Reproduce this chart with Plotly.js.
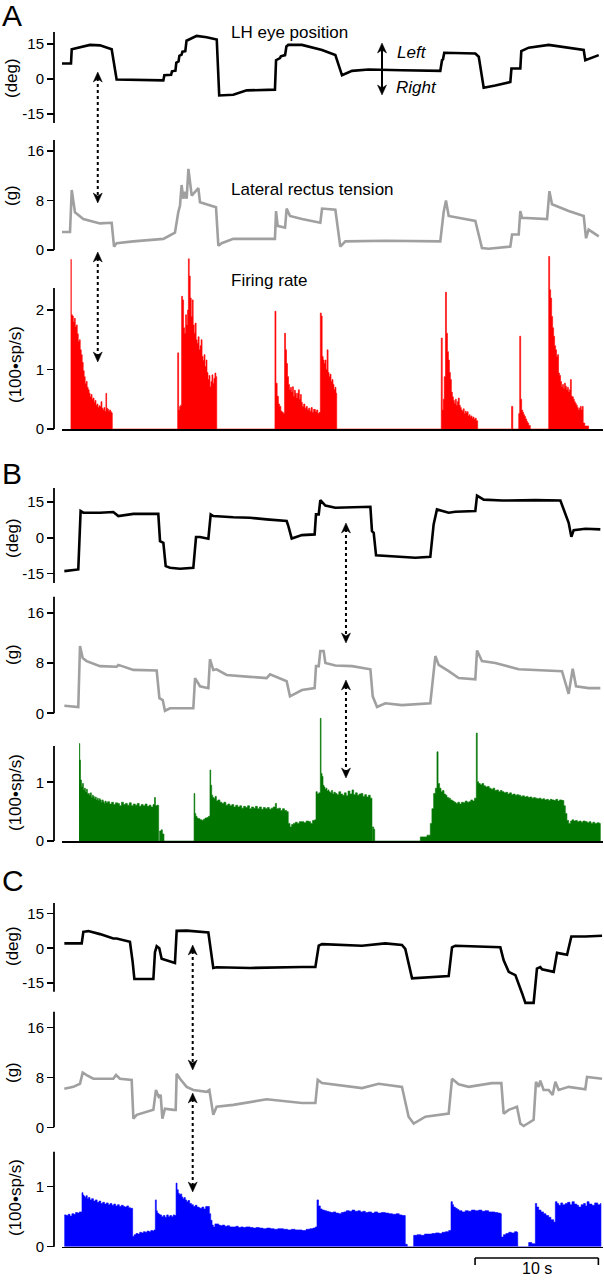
<!DOCTYPE html>
<html><head><meta charset="utf-8">
<script src="https://cdn.plot.ly/plotly-3.0.1.min.js"></script>
<style>html,body{margin:0;padding:0;background:#fff}#chart{width:604px;height:1280px}</style>
</head><body><div id="chart"></div>
<script>
// ---------------- DATA (time in s) ----------------
const eyeA_t = [0,0.73,0.79,1.5,2.27,3.08,4.03,4.43,6.0,8.22,8.30,8.85,8.92,9.2,9.27,9.45,9.52,9.7,9.77,10.0,10.1,10.5,10.92,11.73,12.55,12.75,13.89,14.98,17.27,17.36,17.68,17.75,18.09,18.2,18.35,19.46,21.09,22.17,22.71,23.52,24.87,27.57,30.68,30.82,30.9,31.0,33.52,33.8,34.2,35.14,36.36,36.45,37.17,37.25,37.85,39.47,40.01,42.31,42.44,42.98,43.53];
const eyeA_deg = [6.7,6.7,12.8,13.8,14.7,14.5,12.8,-0.2,-0.4,-0.6,1.6,1.8,3.3,3.6,7.0,7.6,10.0,10.5,11.8,12.0,16.5,17.5,18.6,18.0,17.0,-7.1,-6.8,-4.9,-4.6,8.1,9.0,9.8,10.3,14.0,14.7,14.7,12.5,10.3,1.6,3.5,4.1,3.8,3.5,8.1,8.5,11.3,11.0,9.6,-3.8,-2.8,-1.3,4.5,4.5,12.0,13.5,14.7,14.3,12.5,8.1,9.3,10.3];

const tensionA_t = [0,0.65,0.79,1.05,1.73,3.08,4.03,4.22,4.43,5.78,8.22,8.9,9.16,9.43,9.57,9.7,9.84,9.97,10.11,10.25,10.38,10.52,10.79,11.06,11.19,11.73,12.49,12.68,12.95,13.89,16.6,17.27,17.36,17.49,18.09,18.22,18.49,19.46,20.95,21.09,22.17,22.57,22.98,26.22,30.68,30.95,31.14,31.36,33.52,34.06,34.6,36.36,36.5,37.04,37.17,37.31,39.34,39.53,39.74,41.09,42.31,42.5,42.71,43.53];
const tensionA_g = [2.9,2.9,9.7,6.1,5.0,4.3,4.4,0.55,1.1,1.4,1.8,2.5,2.8,6.1,7.2,10.5,8.3,9.4,8.3,13.1,10.5,8.8,9.4,10.0,7.7,7.4,6.9,0.7,1.1,1.8,1.8,1.8,6.3,3.9,3.6,6.7,5.5,5.0,4.4,6.7,6.5,0.55,1.4,1.5,1.4,6.1,8.0,5.5,4.7,0.3,0.2,0.55,2.5,2.5,6.3,5.2,5.0,9.5,7.4,6.3,5.5,1.9,3.3,2.2];

const firingA_t = [0.70,0.76,0.84,0.92,1.00,1.08,1.16,1.24,1.32,1.40,1.48,1.56,1.64,1.72,1.80,1.88,1.96,2.04,2.12,2.20,2.28,2.36,2.44,2.52,2.60,2.68,2.76,2.84,2.92,3.00,3.08,3.16,3.24,3.32,3.40,3.48,3.56,3.62,3.70,3.78,3.86,3.94,4.02,4.08,
9.38,9.46,9.54,9.62,9.70,9.78,9.86,9.94,10.02,10.10,10.18,10.25,10.32,10.40,10.48,10.56,10.64,10.72,10.80,10.88,10.96,11.04,11.12,11.20,11.28,11.36,11.44,11.52,11.60,11.68,11.76,11.84,11.92,12.00,12.08,12.16,12.24,12.32,12.40,12.48,12.55,
17.27,17.35,17.45,17.55,17.65,17.75,17.85,17.95,18.05,18.13,18.21,18.29,18.37,18.45,18.53,18.61,18.69,18.77,18.85,18.93,19.01,19.09,19.17,19.25,19.33,19.41,19.49,19.60,19.70,19.80,19.90,20.00,20.10,20.20,20.30,20.40,20.55,20.65,20.75,20.85,20.95,21.03,21.10,21.18,21.26,21.34,21.42,21.50,21.58,21.66,21.74,21.82,21.90,21.98,22.06,22.14,22.22,22.28,
30.76,30.84,30.92,31.00,31.10,31.18,31.26,31.34,31.42,31.50,31.58,31.66,31.74,31.82,31.90,31.98,32.06,32.14,32.22,32.30,32.38,32.46,32.54,32.62,32.70,32.78,32.86,32.94,33.02,33.10,33.18,33.26,33.34,33.42,33.50,33.60,33.71,
36.46,36.56,37.04,37.12,37.20,37.28,37.36,37.44,37.52,37.60,37.68,37.76,37.85,37.98,
39.47,39.55,39.63,39.71,39.79,39.87,39.95,40.03,40.11,40.19,40.27,40.35,40.43,40.51,40.59,40.67,40.75,40.83,40.91,40.99,41.07,41.15,41.23,41.31,41.39,41.47,41.55,41.63,41.71,41.79,41.87,41.95,42.03,42.11,42.19,42.27,42.40,42.71];
const firingA_rate = [2.85,1.92,1.90,1.80,1.86,1.72,1.75,1.60,1.47,1.50,1.33,1.25,1.12,0.98,0.88,0.76,0.80,0.70,0.66,0.60,0.54,0.58,0.50,0.52,0.45,0.48,0.40,0.42,0.36,0.39,0.38,0.46,0.35,0.32,0.36,0.30,0.60,0.35,0.33,0.30,0.32,0.29,0.27,0,
1.28,0.32,0.38,0.40,2.23,2.17,1.70,1.61,1.92,1.75,2.0,2.86,2.57,2.20,1.89,2.17,1.75,1.61,1.78,1.50,1.44,1.55,1.33,1.40,1.50,1.22,1.15,1.25,1.05,1.16,0.95,0.83,0.90,0.71,0.80,0.91,0.77,0.85,0.94,0.88,0,
1.98,0.77,0.55,0.42,0.38,0.30,0.28,0.26,1.61,1.33,1.10,0.88,0.75,0.66,0.70,0.62,0.71,0.55,0.65,0.60,0.52,0.60,0.66,0.50,0.58,0.45,0.38,0.42,0.35,0.38,0.32,0.35,0.30,0.36,0.28,0.33,0.29,0.32,0.26,0.28,1.95,1.90,1.22,1.16,1.10,1.16,1.00,1.33,0.95,0.88,0.92,0.80,0.83,0.75,0.66,0.70,0.60,0,
1.53,0.32,0.50,0.88,2.30,1.61,1.30,1.16,0.95,0.83,0.62,0.54,0.48,0.43,0.50,0.40,0.46,0.52,0.40,0.36,0.32,0.30,0.34,0.26,0.30,0.27,0.29,0.22,0.24,0.20,0.22,0.18,0.20,0.16,0.18,0.14,0,
0.38,0,0.26,1.56,0.50,0.32,0.28,0.24,0.21,0.17,0.13,0.10,0.06,0,
2.90,2.34,2.20,1.89,1.70,1.56,1.40,1.33,1.22,1.25,0.94,0.90,0.80,0.71,0.75,0.68,0.77,0.72,0.66,0.70,0.62,0.66,0.83,0.55,0.54,0.50,0.46,0.43,0.40,0.36,0.32,0.35,0.38,0.32,0.38,0.10,0.05,0];

const eyeB_t = [0.19,1.19,1.32,1.51,1.73,3.08,4.16,4.57,5.79,7.81,7.95,8.22,8.41,8.76,9.57,10.65,10.87,11.19,11.87,12.06,12.27,13.89,15.25,16.60,18.22,18.36,18.63,19.46,20.49,20.60,20.82,20.95,21.36,22.17,23.52,25.01,25.14,25.28,25.47,27.57,28.66,29.87,30.14,30.41,30.82,31.36,31.90,33.52,33.66,34.20,35.69,38.39,40.42,40.82,41.09,41.31,41.50,42.44,43.66];
const eyeB_deg = [-14.0,-13.3,-13.3,11.2,10.5,10.5,10.8,9.1,10.0,10.0,-1.4,-2.1,-11.9,-12.6,-13.0,-12.6,0.3,0.3,-0.4,9.8,9.1,8.6,8.4,7.7,7.0,4.9,-0.3,1.1,1.4,9.8,9.8,15.8,13.5,12.6,12.8,13.0,2.8,2.1,-7.4,-8.0,-8.4,-8.0,5.6,11.9,11.2,10.5,10.9,11.2,17.7,16.0,15.6,15.8,15.6,10.5,6.3,0.4,3.2,3.8,3.5];

const tensionB_t = [0.19,1.32,1.46,1.68,2.00,3.08,4.43,4.57,5.79,7.68,7.90,8.17,8.35,8.76,10.65,10.79,11.19,11.87,12.00,12.27,12.54,13.35,15.25,16.60,16.87,18.22,18.49,19.46,20.49,20.60,20.82,20.95,21.22,21.36,22.17,23.52,25.01,25.20,25.55,26.22,27.57,29.87,30.28,30.55,31.36,32.17,33.52,33.66,34.06,35.14,37.04,38.39,40.55,41.09,41.42,41.69,42.71,43.66];
const tensionB_g = [1.2,1.0,10.7,8.8,8.3,7.5,7.4,7.7,6.9,6.8,2.4,2.1,0.4,0.8,0.8,5.6,4.3,4.0,8.6,6.9,7.0,6.1,5.8,5.6,6.2,5.1,2.7,3.7,4.0,7.5,7.5,9.9,9.9,8.0,7.6,7.5,7.0,2.7,1.0,1.6,1.3,1.6,9.1,7.7,6.7,5.6,5.4,10.0,8.3,8.0,7.0,6.9,6.7,3.1,7.1,4.3,4.0,4.0];

const firingB_t = [1.38,1.44,1.50,1.58,1.66,1.74,1.82,1.90,1.98,2.06,2.14,2.22,2.30,2.38,2.46,2.54,2.62,2.70,2.78,2.86,2.94,3.02,3.10,3.18,3.26,3.34,3.42,3.50,3.58,3.70,3.86,4.02,4.18,4.34,4.50,4.66,4.82,4.98,5.14,5.30,5.46,5.62,5.78,5.94,6.10,6.26,6.42,6.58,6.74,6.90,7.06,7.22,7.38,7.50,7.58,7.70,7.84,7.92,8.04,8.14,8.27,
10.71,10.77,10.85,10.95,11.06,11.20,11.35,11.46,11.60,11.75,11.87,12.00,12.06,12.14,12.22,12.32,12.41,12.52,12.64,12.81,12.97,13.13,13.29,13.45,13.61,13.77,13.93,14.09,14.25,14.41,14.57,14.73,14.89,15.05,15.21,15.37,15.53,15.69,15.85,16.01,16.17,16.33,16.49,16.65,16.81,16.97,17.13,17.30,17.40,17.56,17.72,17.88,18.04,18.22,18.35,18.49,18.62,18.76,18.92,19.08,19.24,19.46,19.62,19.80,20.00,20.16,20.32,20.49,20.60,20.70,20.82,20.95,21.01,21.09,21.17,21.25,21.33,21.41,21.49,21.57,21.65,21.75,21.85,21.95,22.05,22.17,22.30,22.45,22.60,22.75,22.90,23.05,23.20,23.35,23.52,23.65,23.80,23.95,24.10,24.25,24.40,24.55,24.70,24.85,25.00,25.14,25.18,25.28,25.36,
29.06,29.60,29.87,30.00,30.14,30.28,30.41,30.50,30.62,30.74,30.86,30.98,31.10,31.22,31.36,31.50,31.65,31.80,31.95,32.10,32.25,32.40,32.55,32.70,32.85,33.00,33.15,33.30,33.45,33.60,33.68,33.79,33.92,34.06,34.20,34.35,34.50,34.65,34.80,34.95,35.10,35.25,35.40,35.55,35.69,35.85,36.00,36.15,36.30,36.45,36.60,36.75,36.90,37.04,37.20,37.35,37.50,37.65,37.80,37.95,38.10,38.25,38.39,38.55,38.70,38.85,39.00,39.15,39.30,39.45,39.60,39.74,39.90,40.05,40.20,40.35,40.55,40.70,40.82,40.95,41.09,41.25,41.36,41.50,41.65,41.80,41.95,42.10,42.25,42.44,42.60,42.75,42.90,43.05,43.20,43.40,43.58,43.66];
const firingB_rate = [1.66,1.38,1.04,0.93,0.98,0.87,0.90,0.84,0.88,0.80,0.81,0.78,0.82,0.74,0.78,0.76,0.72,0.75,0.70,0.73,0.69,0.72,0.70,0.66,0.70,0.67,0.64,0.68,0.65,0.67,0.63,0.66,0.62,0.65,0.64,0.60,0.66,0.62,0.64,0.61,0.65,0.60,0.63,0.61,0.64,0.59,0.62,0.60,0.63,0.59,0.61,0.58,0.62,0.74,0.60,0.61,0,0.17,0.19,0.12,0,
0.81,0.47,0.42,0.39,0.38,0.36,0.35,0.37,0.39,0.40,0.42,1.21,0.95,0.78,0.74,0.72,0.76,0.68,0.70,0.66,0.64,0.66,0.61,0.63,0.60,0.62,0.58,0.61,0.58,0.60,0.56,0.59,0.57,0.60,0.55,0.58,0.56,0.59,0.55,0.58,0.54,0.57,0.55,0.57,0.54,0.56,0.58,0.64,0.55,0.56,0.52,0.55,0.52,0.50,0.30,0.24,0.28,0.30,0.32,0.30,0.33,0.33,0.31,0.34,0.33,0.30,0.35,0.36,0.84,0.80,0.82,2.09,1.15,1.10,0.95,0.92,0.88,0.90,0.85,0.87,0.84,0.82,0.86,0.80,0.83,0.81,0.79,0.84,0.80,0.78,0.82,0.77,0.85,0.80,0.87,0.79,0.82,0.78,0.80,0.81,0.76,0.79,0.75,0.78,0.73,0,0.24,0.20,0,
0.07,0.10,0.30,0.55,0.81,0.90,1.52,0.98,0.90,0.84,0.86,0.80,0.78,0.74,0.73,0.70,0.68,0.66,0.64,0.66,0.63,0.66,0.65,0.68,0.66,0.67,0.70,0.68,0.73,1.84,1.01,0.98,0.96,0.98,0.94,0.92,0.93,0.90,0.88,0.90,0.86,0.87,0.84,0.86,0.84,0.82,0.83,0.80,0.82,0.79,0.80,0.78,0.79,0.78,0.76,0.77,0.75,0.76,0.74,0.75,0.73,0.74,0.73,0.72,0.73,0.71,0.72,0.70,0.71,0.69,0.71,0.70,0.69,0.71,0.68,0.70,0.69,0.60,0.47,0.35,0.30,0.34,0.36,0.34,0.35,0.33,0.34,0.32,0.34,0.33,0.31,0.33,0.30,0.32,0.30,0.31,0.30,0];

const eyeC_t = [0.19,1.60,1.73,2.14,3.08,4.16,4.43,5.51,5.73,5.87,7.41,7.54,7.68,7.89,8.08,8.76,9.16,9.30,10.11,11.87,12.27,12.54,15.25,19.46,20.55,20.82,21.09,24.33,26.22,27.57,27.84,28.39,31.36,31.63,31.90,35.55,35.82,36.23,36.77,37.31,37.58,38.25,38.52,38.79,38.93,39.88,40.15,40.96,41.31,42.44,43.80];
const eyeC_deg = [2.1,2.1,7.1,7.4,6.1,4.2,4.2,2.8,-5.9,-13.3,-13.3,-1.7,0.85,0.0,-4.5,-5.7,-6.4,7.5,7.6,6.8,-8.5,-8.2,-8.5,-8.1,-8.1,1.1,1.8,1.1,2.1,1.4,-0.3,-13.0,-12.0,0.4,1.1,0.4,-5.2,-10.2,-11.6,-19.4,-23.6,-23.6,-8.8,-8.1,-9.1,-10.2,-2.0,-2.8,5.1,5.1,5.4];

const tensionC_t = [0.19,0.92,1.46,1.68,2.00,2.54,4.16,4.38,4.70,5.65,5.79,6.06,7.41,7.62,7.84,8.00,8.14,8.35,9.03,9.22,9.30,9.57,10.11,10.65,11.73,11.95,12.27,12.54,13.89,16.60,19.46,20.55,20.74,21.09,24.33,25.68,27.57,28.11,28.52,29.47,31.36,31.63,32.17,32.98,34.87,35.63,35.82,36.23,36.90,37.17,37.44,38.25,38.44,38.66,38.79,39.06,39.47,39.79,40.01,40.28,41.09,42.44,42.58,43.80];
const tensionC_g = [6.2,6.5,7.0,8.8,8.4,7.8,7.8,8.4,7.8,7.6,1.4,2.0,2.8,6.0,4.9,5.2,1.4,3.0,2.8,2.8,8.6,7.8,6.5,6.0,5.7,6.0,2.0,3.3,3.6,4.5,3.9,3.9,7.6,7.1,6.3,7.0,6.5,1.7,0.6,1.7,2.2,7.8,6.9,6.5,7.1,7.1,2.2,2.8,3.3,0.6,0.2,1.2,7.3,6.5,7.5,6.0,6.0,5.2,7.3,6.0,6.5,6.1,8.1,7.8];

const firingC_t = [0.19,0.35,0.50,0.65,0.80,0.95,1.10,1.25,1.40,1.54,1.62,1.70,1.78,1.87,1.95,2.05,2.15,2.27,2.40,2.55,2.70,2.85,3.00,3.15,3.30,3.45,3.60,3.75,3.90,4.05,4.20,4.35,4.50,4.65,4.80,4.97,5.10,5.25,5.40,5.55,5.65,5.73,5.85,6.00,6.15,6.30,6.45,6.60,6.75,6.90,7.05,7.20,7.35,7.46,7.57,7.65,7.73,7.84,7.95,8.08,8.22,8.35,8.49,8.62,8.75,8.89,9.02,9.14,9.25,9.33,9.43,9.52,9.61,9.71,9.80,9.90,10.00,10.11,10.22,10.35,10.50,10.65,10.80,10.95,11.10,11.19,11.35,11.50,11.65,11.87,11.95,12.06,12.17,12.27,12.40,12.54,12.70,12.85,13.00,13.20,13.40,13.60,13.89,14.10,14.30,14.50,14.70,14.90,15.25,15.50,15.75,16.00,16.30,16.60,16.90,17.20,17.50,17.95,18.30,18.60,18.90,19.20,19.46,19.80,20.10,20.35,20.55,20.68,20.80,20.95,21.10,21.30,21.45,21.63,21.80,22.00,22.20,22.44,22.65,22.85,23.05,23.30,23.52,23.75,24.00,24.20,24.40,24.60,24.85,25.10,25.35,25.60,25.90,26.22,26.50,26.80,27.10,27.35,27.57,27.84,28.00,28.52,28.80,29.10,29.40,29.74,30.00,30.30,30.60,30.82,31.10,31.36,31.55,31.66,31.76,31.90,32.05,32.20,32.44,32.70,32.95,33.20,33.50,33.79,34.05,34.30,34.60,34.87,35.10,35.35,35.55,35.63,35.80,36.00,36.23,36.45,36.70,36.90,36.96,37.85,38.10,38.39,38.50,38.66,38.85,39.05,39.25,39.47,39.65,39.88,40.01,40.15,40.28,40.45,40.60,40.82,41.00,41.20,41.36,41.55,41.75,41.90,42.10,42.30,42.45,42.58,42.75,42.98,43.20,43.45,43.66,43.71];
const firingC_rate = [0.53,0.52,0.54,0.51,0.55,0.54,0.57,0.56,0.58,0.58,0.90,0.86,0.84,0.82,0.85,0.80,0.82,0.78,0.80,0.76,0.78,0.74,0.76,0.72,0.74,0.71,0.73,0.70,0.72,0.69,0.71,0.68,0.70,0.67,0.69,0.67,0.66,0.68,0.65,0.64,0.64,0.17,0.20,0.22,0.21,0.24,0.23,0.25,0.24,0.26,0.25,0.27,0.26,0.28,0.78,0.60,0.56,0.54,0.53,0.50,0.52,0.49,0.53,0.50,0.52,0.50,0.53,0.52,1.06,0.95,0.89,0.86,0.88,0.83,0.80,0.82,0.78,0.75,0.77,0.72,0.70,0.67,0.69,0.66,0.65,0.64,0.66,0.63,0.67,0.67,0.55,0.44,0.36,0.33,0.38,0.38,0.36,0.35,0.36,0.34,0.35,0.33,0.33,0.34,0.32,0.33,0.32,0.33,0.32,0.31,0.32,0.31,0.30,0.31,0.30,0.29,0.30,0.29,0.28,0.29,0.28,0.28,0.27,0.29,0.30,0.31,0.33,0.78,0.68,0.63,0.61,0.60,0.59,0.58,0.57,0.58,0.56,0.55,0.57,0.58,0.60,0.59,0.61,0.59,0.60,0.58,0.59,0.57,0.58,0.56,0.58,0.56,0.57,0.56,0.55,0.54,0.55,0.53,0.52,0.04,0,0.19,0.20,0.19,0.21,0.21,0.22,0.23,0.22,0.24,0.25,0.27,0.75,0.70,0.66,0.64,0.62,0.60,0.58,0.60,0.59,0.61,0.60,0.61,0.59,0.60,0.58,0.58,0.57,0.56,0.55,0.16,0.20,0.22,0.24,0.23,0.25,0.24,0,0.07,0.05,0.72,0.66,0.61,0.58,0.55,0.52,0.49,0.45,0.41,0.75,0.72,0.69,0.73,0.70,0.72,0.74,0.70,0.75,0.71,0.69,0.66,0.70,0.72,0.68,0.75,0.71,0.69,0.73,0.70,0.72,0];

const eyeTicks = [-15, 0, 15];
const eyeTickText = ['-15', '0', '15'];
const tensionTicks = [0, 8, 16];
const firingTicksA = [0, 1, 2];
const firingTicksBC = [0, 1];
const timeRange = [0, 43.9];
const scaleBarStart = 33.5, scaleBarLength = 10, scaleBarLabel = '10 s';
const markerTimes = [2.9, 23.03, 10.6];

// ---------------- LAYOUT ----------------
const W = 604, H = 1280;
const FONT = 'Liberation Sans, Arial, Helvetica, sans-serif';
const XD = [62 / W, 603.3 / W];
const SPX = 54; // y-axis spine pixel x

const panels = [
  {letter: 'A', letterY: 15, color: '#ff0000',
   eyeT: eyeA_t, eye: eyeA_deg, tenT: tensionA_t, ten: tensionA_g, fireT: firingA_t, fire: firingA_rate, fireTicks: firingTicksA,
   eyeG: {cal: [15, 44.2, -15, 113.8], band: [20, 134], spine: [32, 123], title: [12, 78]},
   tenG: {cal: [16, 151, 0, 250], band: [135, 262], spine: [140, 250], title: [12, 196]},
   fireG: {cal: [2, 310, 0, 429], band: [250, 429], spine: [288, 429], title: [15, 365]},
   arrows: [[72, 203], [252, 362]]},
  {letter: 'B', letterY: 473, color: 'rgb(0,118,0)',
   eyeT: eyeB_t, eye: eyeB_deg, tenT: tensionB_t, ten: tensionB_g, fireT: firingB_t, fire: firingB_rate, fireTicks: firingTicksBC,
   eyeG: {cal: [15, 502, -15, 573.5], band: [480, 595], spine: [488, 583], title: [12, 538]},
   tenG: {cal: [16, 612.7, 0, 713.3], band: [592, 725], spine: [596.7, 713.3], title: [12, 655]},
   fireG: {cal: [1, 782.3, 0, 841], band: [700, 841], spine: [746, 841], title: [15, 793]},
   arrows: [[523, 643], [680, 778]]},
  {letter: 'C', letterY: 880, color: '#0000ff',
   eyeT: eyeC_t, eye: eyeC_deg, tenT: tensionC_t, ten: tensionC_g, fireT: firingC_t, fire: firingC_rate, fireTicks: firingTicksBC,
   eyeG: {cal: [15, 913.5, -15, 983], band: [893, 1012], spine: [903, 991.7], title: [12, 946]},
   tenG: {cal: [16, 1027.7, 0, 1127.3], band: [1005, 1140], spine: [1011.7, 1127.3], title: [12, 1073]},
   fireG: {cal: [1, 1186.7, 0, 1246.7], band: [1140, 1246.7], spine: [1151.7, 1246.7], title: [15, 1198]},
   arrows: [[945, 1070], [1093, 1192]]}
];

function geo(g) {
  const [v1, p1, v2, p2] = g.cal;
  const k = (p2 - p1) / (v1 - v2);
  const v = p => v1 + (p1 - p) / k;
  return {range: [v(g.band[1]), v(g.band[0])], domain: [1 - g.band[1] / H, 1 - g.band[0] / H]};
}
const PX = px => px / W, PY = py => 1 - py / H;
const tToPx = t => XD[0] * W + (t - timeRange[0]) / (timeRange[1] - timeRange[0]) * (XD[1] - XD[0]) * W;

const data = [], shapes = [], annotations = [];
const layout = {
  width: W, height: H, margin: {l: 0, r: 0, t: 0, b: 0},
  paper_bgcolor: '#fff', plot_bgcolor: 'rgba(0,0,0,0)', showlegend: false,
  font: {family: FONT, color: '#000'}
};

function addAxis(i, g, tickvals, ticktext, showX) {
  const s = i === 1 ? '' : String(i);
  const G = geo(g);
  layout['xaxis' + s] = {domain: XD, range: timeRange, anchor: 'y' + s, visible: showX,
    showline: true, linecolor: '#000', linewidth: 1.6, ticks: '', showticklabels: false,
    showgrid: false, zeroline: false, fixedrange: true};
  layout['yaxis' + s] = {domain: G.domain, range: G.range, anchor: 'free', position: SPX / W, side: 'left',
    showline: false, ticks: 'outside', ticklen: 7, tickwidth: 1.6, tickcolor: '#000',
    tickvals: tickvals, ticktext: ticktext, tickfont: {family: FONT, size: 15, color: '#000'},
    showgrid: false, zeroline: false, fixedrange: true};
  shapes.push({type: 'line', xref: 'paper', yref: 'paper', x0: PX(SPX), x1: PX(SPX),
    y0: PY(g.spine[0]), y1: PY(g.spine[1]), line: {color: '#000', width: 1.8}});
  return s;
}

function axisTitle(text, pos) {
  annotations.push({xref: 'paper', yref: 'paper', x: PX(pos[0]), y: PY(pos[1]), text: text, textangle: -90,
    showarrow: false, xanchor: 'center', yanchor: 'middle', font: {family: FONT, size: 17, color: '#000'}});
}

function head(xp, yp, dir) {
  const w = 4.5, l = 10, n = 7;
  const pts = [[xp, yp], [xp - w, yp - dir * l], [xp, yp - dir * n], [xp + w, yp - dir * l]];
  const path = 'M ' + pts.map(p => PX(p[0]) + ',' + PY(p[1])).join(' L ') + ' Z';
  shapes.push({type: 'path', xref: 'paper', yref: 'paper', path: path, fillcolor: '#000', line: {color: '#000', width: 0.5}});
}
function doubleArrow(xp, y0, y1, dash, width) {
  shapes.push({type: 'line', xref: 'paper', yref: 'paper', x0: PX(xp), x1: PX(xp), y0: PY(y0 + 6), y1: PY(y1 - 6),
    line: {color: '#000', width: width, dash: dash}});
  head(xp, y0, -1);
  head(xp, y1, 1);
}

panels.forEach((p, idx) => {
  const base = idx * 3;
  const sE = addAxis(base + 1, p.eyeG, eyeTicks, eyeTickText, false);
  const sT = addAxis(base + 2, p.tenG, tensionTicks, tensionTicks.map(String), false);
  const sF = addAxis(base + 3, p.fireG, p.fireTicks, p.fireTicks.map(String), true);
  data.push({type: 'scatter', mode: 'lines', x: p.eyeT, y: p.eye, xaxis: 'x' + sE, yaxis: 'y' + sE,
    line: {color: '#000', width: 2.6}, hoverinfo: 'skip'});
  data.push({type: 'scatter', mode: 'lines', x: p.tenT, y: p.ten, xaxis: 'x' + sT, yaxis: 'y' + sT,
    line: {color: '#a0a0a0', width: 2.6}, hoverinfo: 'skip'});
  data.push({type: 'scatter', mode: 'lines', x: p.fireT, y: p.fire, xaxis: 'x' + sF, yaxis: 'y' + sF,
    line: {color: p.color, width: 0.6, shape: 'hv'}, fill: 'tozeroy', fillcolor: p.color, hoverinfo: 'skip'});
  axisTitle('(deg)', p.eyeG.title);
  axisTitle('(g)', p.tenG.title);
  axisTitle('(100•sp/s)', p.fireG.title);
  annotations.push({xref: 'paper', yref: 'paper', x: PX(0), y: PY(p.letterY), text: p.letter, showarrow: false,
    xanchor: 'left', yanchor: 'middle', font: {family: FONT, size: 30, color: '#000'}});
  const xp = tToPx(markerTimes[idx]);
  p.arrows.forEach(a => doubleArrow(xp, a[0], a[1], 'dot', 2));
});

// panel A labels
const labelFont = {family: FONT, size: 17, color: '#000'};
[['LH eye position', 229, 33], ['Lateral rectus tension', 229, 189], ['Firing rate', 229, 281]].forEach(l => {
  annotations.push({xref: 'paper', yref: 'paper', x: PX(l[1]), y: PY(l[2]), text: l[0], showarrow: false,
    xanchor: 'left', yanchor: 'middle', font: labelFont});
});
annotations.push({xref: 'paper', yref: 'paper', x: PX(395), y: PY(52), text: '<i>Left</i>', showarrow: false,
  xanchor: 'left', yanchor: 'middle', font: labelFont});
annotations.push({xref: 'paper', yref: 'paper', x: PX(394), y: PY(87), text: '<i>Right</i>', showarrow: false,
  xanchor: 'left', yanchor: 'middle', font: labelFont});
doubleArrow(382, 43, 95, 'solid', 2);

// scale bar
shapes.push({type: 'line', xref: 'x9', yref: 'paper', x0: scaleBarStart, x1: scaleBarStart + scaleBarLength,
  y0: PY(1258), y1: PY(1258), line: {color: '#000', width: 1.6}});
[scaleBarStart, scaleBarStart + scaleBarLength].forEach(x => shapes.push({type: 'line', xref: 'x9', yref: 'paper',
  x0: x, x1: x, y0: PY(1258), y1: PY(1265), line: {color: '#000', width: 1.6}}));
annotations.push({xref: 'x9', yref: 'paper', x: scaleBarStart + scaleBarLength / 2, y: PY(1279), text: scaleBarLabel,
  showarrow: false, xanchor: 'center', yanchor: 'bottom', font: {family: FONT, size: 16, color: '#000'}});

layout.shapes = shapes;
layout.annotations = annotations;
Plotly.newPlot('chart', data, layout, {staticPlot: true, displayModeBar: false});
</script>
</body></html>
